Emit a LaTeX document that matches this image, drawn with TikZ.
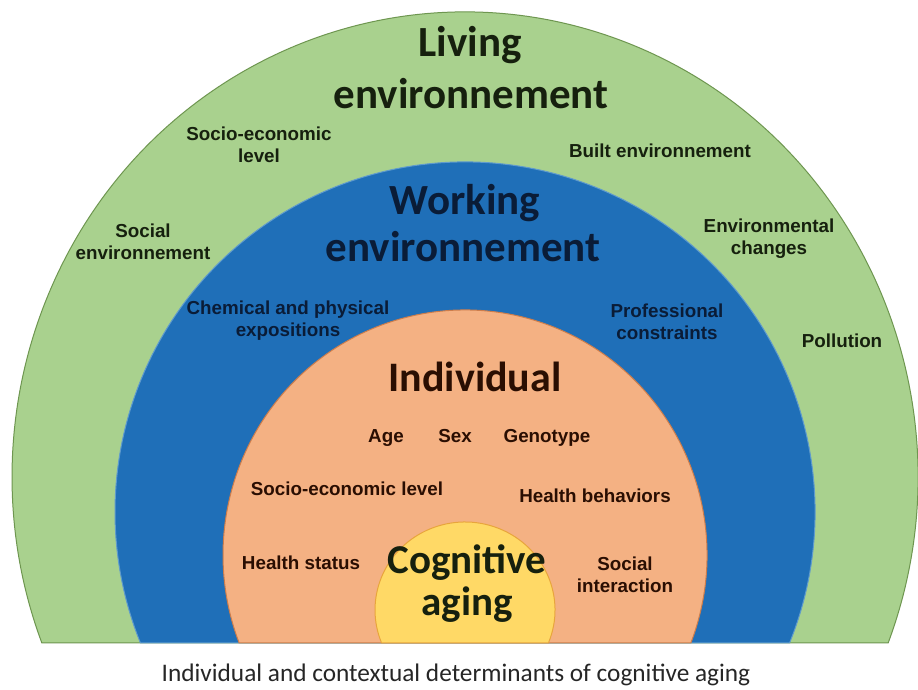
\documentclass[tikz,border=0pt]{standalone}
\usepackage{fontspec}
\setmainfont{Carlito}
\newfontfamily\labelfont{Liberation Sans}
\usepackage{tikz}
\definecolor{livegreen}{RGB}{169,209,142}
\definecolor{liveedge}{RGB}{110,150,80}
\definecolor{workblue}{RGB}{31,111,184}
\definecolor{workedge}{RGB}{95,155,205}
\definecolor{indorange}{RGB}{244,177,131}
\definecolor{indedge}{RGB}{205,125,75}
\definecolor{coggold}{RGB}{255,217,102}
\definecolor{cogedge}{RGB}{232,165,60}
\definecolor{livetext}{RGB}{22,32,14}
\definecolor{worktext}{RGB}{10,28,55}
\definecolor{indtext}{RGB}{42,14,2}

\begin{document}
\begin{tikzpicture}[x=1pt,y=1pt,
 title/.style={font=\fontsize{43}{47}\selectfont\bfseries,anchor=base,inner sep=0pt},
 factor/.style={font=\labelfont\fontsize{18.8}{22.5}\selectfont\bfseries,anchor=base,align=center,inner sep=0pt}]
\useasboundingbox (0,0) rectangle (918,690);
\fill[white] (0,0) rectangle (918,690);
% rings, outer to inner, all cut at the same bottom line
\foreach \rx/\ry/\cy/\fc/\ec in {453/465/213/livegreen/liveedge,350/350/178/workblue/workedge,
 242/245/135/indorange/indedge,90/88/80/coggold/cogedge} {
 \pgfmathsetmacro{\ang}{asin((47-\cy)/\ry)}
 \draw[fill=\fc,draw=\ec,line width=1pt] ([shift={(\ang:\rx pt and \ry pt)}]465,\cy)
 arc[start angle=\ang,end angle=180-\ang,x radius=\rx pt,y radius=\ry pt] -- cycle;
}
\node[title,livetext] (living) at (470,633) {Living};
\node[title,livetext] (livenv) at (471,581) {environnement};
\node[title,worktext] (working) at (465,475) {Working};
\node[title,worktext] (workenv) at (463,428) {environnement};
\node[title,indtext,font=\fontsize{42}{46}\selectfont\bfseries] (indiv) at (475,298) {Individual};
\node[title,livetext,align=center,font=\fontsize{41}{42}\selectfont\bfseries] (cognitive) at (467,74) {Cognitive\\aging};
% two-line labels sit on the baseline of their last line
\foreach \n/\x/\y/\lab in {sel/259/527/{Socio-economic\\level},built/660/532/{Built environnement},
 social/143/430/{Social\\environnement},envchg/769/435/{Environmental\\changes},pollution/842/342/{Pollution}}
 \node[factor,livetext] (\n) at (\x,\y) {\lab};
\foreach \n/\x/\y/\lab in {chem/288/353/{Chemical and physical\\expositions},prof/667/350/{Professional\\constraints}}
 \node[factor,worktext] (\n) at (\x,\y) {\lab};
\foreach \n/\x/\y/\lab in {age/386/247/{Age},sex/455/247/{Sex},geno/547/247/{Genotype},
 indsel/347/194/{Socio-economic level},behav/595/187/{Health behaviors},
 status/301/120/{Health status},interact/625/97/{Social\\interaction}}
 \node[factor,indtext] (\n) at (\x,\y) {\lab};
\node[anchor=base,inner sep=0pt,font=\fontsize{25.3}{30}\selectfont,text=black!85] (caption) at (456,8)
 {Individual and contextual determinants of cognitive aging};
\end{tikzpicture}
\end{document}
